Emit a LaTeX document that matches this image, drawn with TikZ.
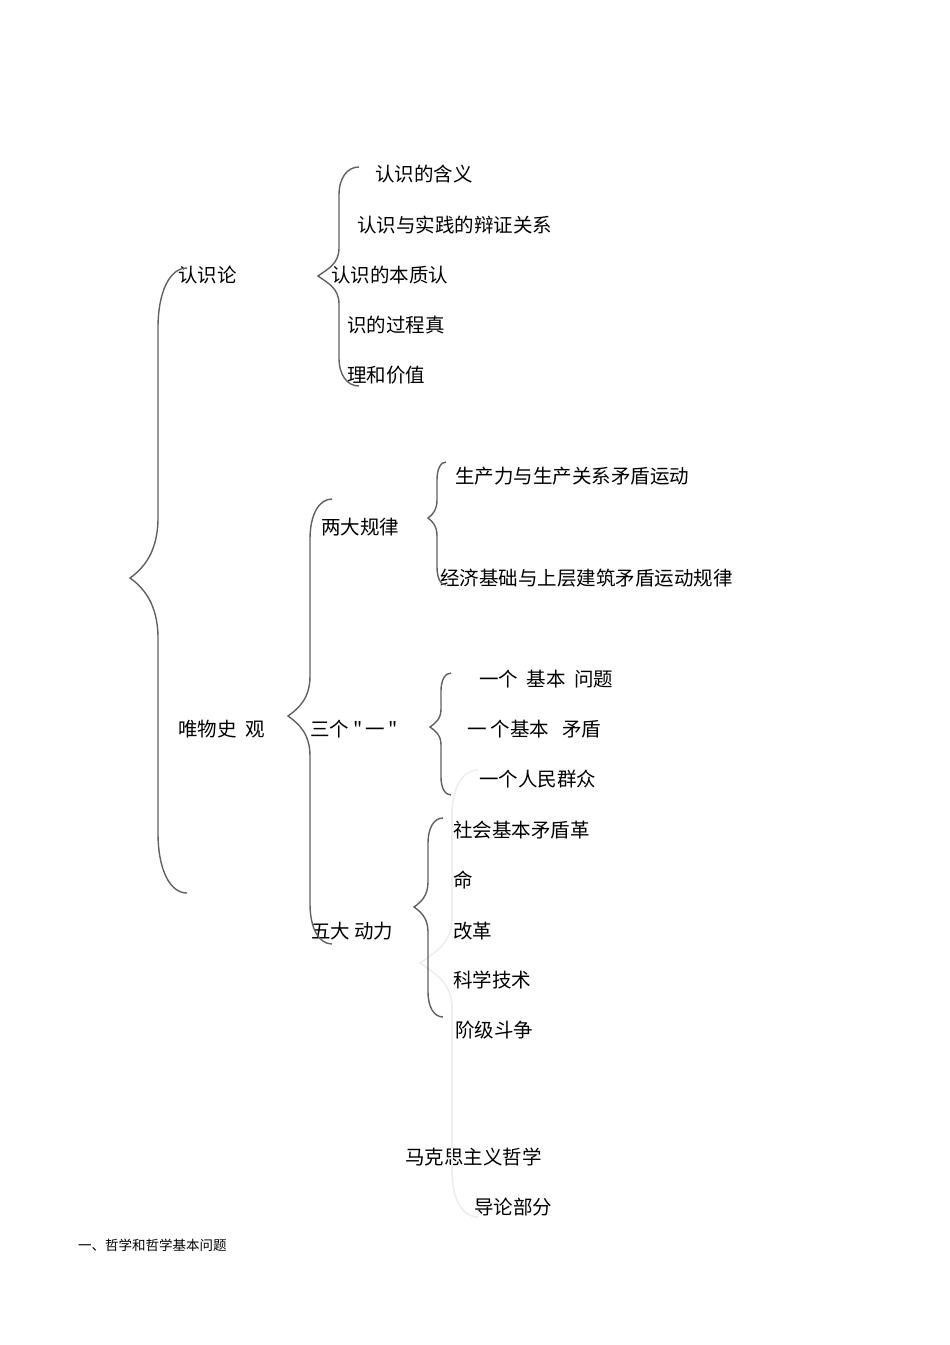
\documentclass[tikz,border=0pt]{standalone}
\usepackage{fontspec}
\newfontfamily\cjk{Noto Sans CJK SC}

% curly brace: stem x, top y, tip y, bottom y, end x, tip x, curl
\newcommand{\curlbrace}[7]{%
  (#5,#2) .. controls ({#1+0.4*(#5-#1)},#2) and (#1,{#2+0.4*#7}) .. (#1,{#2+#7})
  -- (#1,{#3-#7})
  .. controls (#1,{#3-0.45*#7}) and ({#6+0.5*(#1-#6)},{#3-0.35*(#1-#6)}) .. (#6,#3)
  .. controls ({#6+0.5*(#1-#6)},{#3+0.35*(#1-#6)}) and (#1,{#3+0.45*#7}) .. (#1,{#3+#7})
  -- (#1,{#4-#7})
  .. controls (#1,{#4-0.4*#7}) and ({#1+0.4*(#5-#1)},#4) .. (#5,#4)}

\begin{document}
\begin{tikzpicture}[x=1pt,y=-1pt,inner sep=0pt,outer sep=0pt,
item/.style={anchor=west,font=\cjk\fontsize{19.5}{20}\selectfont},
note/.style={anchor=west,font=\cjk\fontsize{13.5}{14}\selectfont},
bracket/.style={draw=black!62,line width=1.4pt},
ghost/.style={draw=black!7,line width=1.6pt}]
\useasboundingbox (0,0) rectangle (950,1345);

% top level
\draw (178,275) node[item] (rsl) {认识论};
\draw (178,729) node[item] (wwsg) {唯物史\ \ 观};

% 认识论
\draw (375,174) node[item] (hanyi) {认识的含义};
\draw (357,225) node[item] (bianzheng) {认识与实践的辩证关系};
\draw (331,275) node[item] (benzhi) {认识的本质认};
\draw (347,325) node[item] (guocheng) {识的过程真};
\draw (347,375) node[item] (jiazhi) {理和价值};

% 唯物史观
\draw (321,527) node[item] (guilv) {两大规律};
\draw (310,729) node[item] (sange) {三个\ "\,一\,"};
\draw (311,931) node[item] (dongli) {五大\ 动力};

\draw (455,476) node[item] (shengchan) {生产力与生产关系矛盾运动};
\draw (440,578) node[item] (jingji) {经济基础与上层建筑矛盾运动规律};

\draw (479,679) node[item] (wenti) {一个\ \ 基本\ \ 问题};
\draw (467,729) node[item] (maodun) {一\ 个基本\ \ \ 矛盾};
\draw (479,779) node[item] (qunzhong) {一个人民群众};

\draw (453,830) node[item] (shehui) {社会基本矛盾革};
\draw (453,880) node[item] (ming) {命};
\draw (453,931) node[item] (gaige) {改革};
\draw (453,980) node[item] (keji) {科学技术};
\draw (455,1030) node[item] (jieji) {阶级斗争};

% title
\draw (405,1157) node[item] (makesi) {马克思主义哲学};
\draw (474,1207) node[item] (daolun) {导论部分};
\draw (78,1245) node[note] (zhexue) {一、哲学和哲学基本问题};

% braces
\draw[ghost] \curlbrace{452}{770}{963}{1217}{478}{420}{45};
\draw[bracket] \curlbrace{158}{268}{578}{893}{187}{130}{60};
\draw[bracket] \curlbrace{339}{167}{276}{386}{359}{318}{28};
\draw[bracket] \curlbrace{310}{499}{716}{944}{332}{288}{40};
\draw[bracket] \curlbrace{437}{462}{518}{585}{446}{428}{18};
\draw[bracket] \curlbrace{441}{673}{727}{795}{451}{430}{18};
\draw[bracket] \curlbrace{428}{818}{907}{1017}{443}{414}{25};
\end{tikzpicture}
\end{document}
